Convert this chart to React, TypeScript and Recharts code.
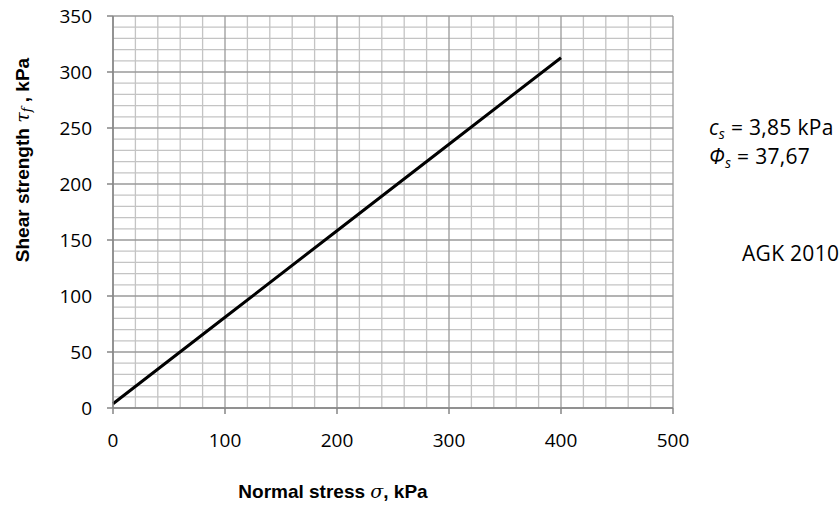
import { LineChart, Line, XAxis, YAxis, CartesianGrid } from 'recharts';

// Mohr-Coulomb envelope
const normalStress = [0, 100, 200, 300, 400];
const shearStrength = [3.85, 81.06, 158.27, 235.48, 312.69];

const xTicks = [0, 100, 200, 300, 400, 500];
const yTicks = [0, 50, 100, 150, 200, 250, 300, 350];
const xMinor = [20, 40, 60, 80, 120, 140, 160, 180, 220, 240, 260, 280, 320, 340, 360, 380, 420, 440, 460, 480];
const yMinor = [10, 20, 30, 40, 60, 70, 80, 90, 110, 120, 130, 140, 160, 170, 180, 190, 210, 220, 230, 240, 260, 270, 280, 290, 310, 320, 330, 340];

const data = normalStress.map((s, i) => ({ sigma: s, tau: shearStrength[i] }));

const tickFont = { fontSize: 19, fill: '#000', fontFamily: 'Open Sans' };
const titleStyle = { fontFamily: 'Liberation Sans', fontWeight: 'bold', fontSize: 19 };
const mathStyle = { fontFamily: 'DejaVu Serif', fontStyle: 'italic', fontWeight: 'normal' };

const YTitle = () => (
  <text x={22} y={160} transform="rotate(-90 22 160)" textAnchor="middle" dominantBaseline="central" style={titleStyle} fill="#000">
    Shear strength{' '}
    <tspan style={mathStyle}>τ</tspan>
    <tspan dy={4} style={{ ...mathStyle, fontSize: 13 }}>f</tspan>
    <tspan dy={-4}> , kPa</tspan>
  </text>
);

const XTitle = () => (
  <text x={333} y={491} textAnchor="middle" dominantBaseline="central" style={titleStyle} fill="#000">
    Normal stress{' '}
    <tspan style={mathStyle}>σ</tspan>
    <tspan>, kPa</tspan>
  </text>
);

const noteStyle = {
  position: 'absolute' as const,
  fontFamily: 'Open Sans',
  fontSize: 21,
  lineHeight: '22px',
  letterSpacing: '0.3px',
  whiteSpace: 'nowrap' as const,
  color: '#000',
};
const subStyle = { fontSize: 14, verticalAlign: '-4px', fontStyle: 'italic' as const };

export default function App() {
  return (
    <div style={{ position: 'absolute', left: 0, top: 0, width: 840, height: 508, background: '#fff' }}>
      <LineChart width={840} height={508} data={data} margin={{ top: 16, right: 167, left: 33, bottom: 60 }}>
        <CartesianGrid stroke="#c4c4c4" strokeWidth={1.3} verticalValues={xMinor} horizontalValues={yMinor} />
        <CartesianGrid stroke="#9a9a9a" strokeWidth={1.3} verticalValues={xTicks} horizontalValues={yTicks} />
        <XAxis
          dataKey="sigma"
          type="number"
          domain={[0, 500]}
          ticks={xTicks}
          interval={0}
          stroke="#868686"
          strokeWidth={1.5}
          tickSize={6}
          tickMargin={20}
          tick={tickFont}
          height={40}
        />
        <YAxis
          type="number"
          domain={[0, 350]}
          ticks={yTicks}
          interval={0}
          stroke="#868686"
          strokeWidth={1.5}
          tickSize={6}
          tickMargin={15}
          tick={tickFont}
          width={80}
        />
        <Line type="linear" dataKey="tau" stroke="#000" strokeWidth={3} dot={false} isAnimationActive={false} />
        <YTitle />
        <XTitle />
      </LineChart>
      <div style={{ ...noteStyle, left: 709, top: 116 }}>
        <div>
          <i>c</i><sub style={subStyle}>s</sub> = 3,85 kPa
        </div>
        <div>
          <i>Φ</i><sub style={subStyle}>s</sub> = 37,67
        </div>
      </div>
      <div style={{ ...noteStyle, left: 742, top: 242 }}>AGK 2010</div>
    </div>
  );
}
